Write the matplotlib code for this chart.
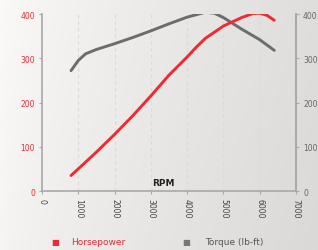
import numpy as np
import matplotlib
matplotlib.use("Agg")
import matplotlib.pyplot as plt

# values
hp_rpm = [800, 1000, 1500, 2000, 2500, 3000, 3500, 4000, 4250, 4500, 5000, 5500, 5800, 6000, 6200, 6400]
horsepower = [35, 50, 88, 128, 170, 215, 262, 303, 325, 345, 373, 392, 401, 402, 397, 386]
tq_rpm = [800, 1000, 1200, 1500, 2000, 2500, 3000, 3500, 4000, 4500, 4750, 5000, 5500, 6000, 6400]
torque = [272, 295, 310, 320, 333, 347, 362, 378, 393, 404, 402, 392, 366, 342, 318]

x_ticks = [0, 1000, 2000, 3000, 4000, 5000, 6000, 7000]
y_ticks = [0, 100, 200, 300, 400]

red = "#f02a30"
grey = "#6b6d6d"

fig = plt.figure(figsize=(3.18, 2.51), dpi=100)

# soft background gradient (white at left, light grey at right)
bg = fig.add_axes([0, 0, 1, 1])
grad = np.linspace(0, 1, 256)
rows = np.linspace(0, 1, 64)[:, None]
shade = 0.985 - 0.11 * grad[None, :] ** 0.8 - 0.02 * rows
img = np.dstack([shade, shade * 0.995, shade * 0.99])
bg.imshow(img, aspect="auto", extent=[0, 1, 0, 1])
bg.axis("off")

ax = fig.add_axes([0.132, 0.235, 0.799, 0.705])
ax.patch.set_alpha(0)
ax.set_xlim(0, 7000)
ax.set_ylim(0, 400)

for x in x_ticks[1:-1]:
    ax.axvline(x, color="#dcdad8", lw=0.8, ls=(0, (3, 3)), zorder=0)

ax.plot(tq_rpm, torque, color=grey, lw=2.1, solid_capstyle="round", solid_joinstyle="round", zorder=3)
ax.plot(hp_rpm, horsepower, color=red, lw=2.1, solid_capstyle="round", solid_joinstyle="round", zorder=4)

ax.spines["top"].set_visible(False)
for side in ["left", "right", "bottom"]:
    ax.spines[side].set_color("#a8a8a8")
    ax.spines[side].set_linewidth(1.2)

ax.set_xticks(x_ticks)
ax.set_xticklabels([str(v) for v in x_ticks], rotation=-90, fontsize=5.5, color="#444444")
ax.set_yticks(y_ticks)
ax.set_yticklabels([str(v) for v in y_ticks], fontsize=5.5, color=red)
ax.tick_params(axis="both", length=2, color="#a8a8a8", pad=3)

ax2 = ax.twinx()
ax2.set_ylim(0, 400)
ax2.set_yticks(y_ticks)
ax2.set_yticklabels([str(v) for v in y_ticks], fontsize=5.5, color="#666666")
ax2.tick_params(axis="y", length=2, color="#a8a8a8", pad=3)
for side in ["top", "left", "bottom"]:
    ax2.spines[side].set_visible(False)
ax2.spines["right"].set_color("#a8a8a8")
ax2.spines["right"].set_linewidth(1.2)

ax.text(3350, 8, "RPM", fontsize=6.5, fontweight="bold", color="#222222", ha="center", va="bottom")

# legend at the bottom
fig.text(0.175, 0.035, "\u25a0", color=red, fontsize=6, ha="center", va="center")
fig.text(0.225, 0.035, "Horsepower", color=red, fontsize=6.5, ha="left", va="center")
fig.text(0.585, 0.035, "\u25a0", color="#777777", fontsize=6, ha="center", va="center")
fig.text(0.645, 0.035, "Torque (lb-ft)", color="#555555", fontsize=6.5, ha="left", va="center")

fig.savefig("out.png", dpi=100)
